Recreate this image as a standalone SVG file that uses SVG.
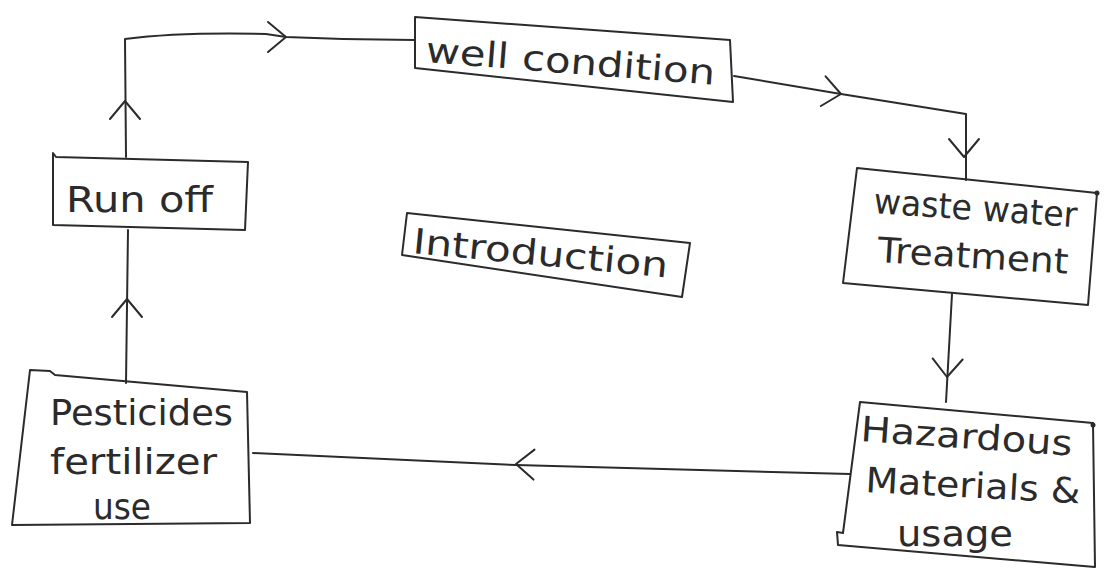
<svg xmlns="http://www.w3.org/2000/svg" width="1112" height="575" viewBox="0 0 1112 575">
<style>
.box{fill:none;stroke:#2b2b2b;stroke-width:2;stroke-linejoin:round}
.ln{fill:none;stroke:#2b2b2b;stroke-width:2;stroke-linecap:round;stroke-linejoin:round}
.t{font-family:"DejaVu Sans","Liberation Sans",sans-serif;fill:#2b2b2b;font-size:35px;font-weight:normal}
</style>
<defs>
<path id="chev" d="M-18,-15 L0,0 L-18,15" fill="none" stroke="#2b2b2b" stroke-width="2" stroke-linecap="round" stroke-linejoin="round"/>
</defs>
<rect x="0" y="0" width="1112" height="575" fill="#ffffff"/>
<g id="connectors">
<path class="ln" d="M126,157 L125,39 Q180,32 266,34 L286,37 Q350,40 415,40"/>
<use href="#chev" transform="translate(125,101) rotate(-90)"/>
<use href="#chev" transform="translate(286,37)"/>
<path class="ln" d="M734,76 L841,94 L966,114 L966,180"/>
<use href="#chev" transform="translate(841,94) rotate(9)"/>
<use href="#chev" transform="translate(964,157) rotate(90)"/>
<path class="ln" d="M952,294 L946,402"/>
<use href="#chev" transform="translate(947,377) rotate(92)"/>
<path class="ln" d="M850,474 L516,465 L253,453"/>
<use href="#chev" transform="translate(516,464) rotate(182)"/>
<path class="ln" d="M126,383 L128,230"/>
<use href="#chev" transform="translate(127,299) rotate(-90)"/>
</g>
<g id="node-runoff">
<path class="box" d="M53,153 L56,157 L248,162 L245,230 L53,225 Z"/>
<text class="t" x="66" y="212" font-size="37" textLength="147" lengthAdjust="spacingAndGlyphs">Run off</text>
</g>
<g id="node-well">
<path class="box" d="M415,17 L730,40 L733,102 L415,68 Z"/>
<text class="t" x="425" y="62" font-size="38" textLength="290" lengthAdjust="spacingAndGlyphs" transform="rotate(4.5,425,62)">well condition</text>
</g>
<g id="node-waste">
<path class="box" d="M857,168 L1097,193 L1088,305 L843,283 Z"/>
<circle cx="1097" cy="193" r="2.5" fill="#2b2b2b"/>
<text class="t" x="873" y="213" textLength="204" lengthAdjust="spacingAndGlyphs" transform="rotate(4,873,213)">waste water</text>
<text class="t" x="877" y="262" textLength="191" lengthAdjust="spacingAndGlyphs" transform="rotate(3.5,877,262)">Treatment</text>
</g>
<g id="node-hazardous">
<path class="box" d="M860,402 L1093,423 L1095,567 L838,545 L837,532 L843,533 Z"/>
<circle cx="1093" cy="425" r="2.5" fill="#2b2b2b"/>
<text class="t" x="860" y="441" textLength="212" lengthAdjust="spacingAndGlyphs" transform="rotate(4,860,441)">Hazardous</text>
<text class="t" x="865" y="492" textLength="215" lengthAdjust="spacingAndGlyphs" transform="rotate(3,865,492)">Materials &amp;</text>
<text class="t" x="897" y="546" textLength="116" lengthAdjust="spacingAndGlyphs">usage</text>
</g>
<g id="node-pesticides">
<path class="box" d="M30,370 L50,371 L55,375 L247,392 L250,523 L12,525 Z"/>
<text class="t" x="50" y="425" textLength="183" lengthAdjust="spacingAndGlyphs">Pesticides</text>
<text class="t" x="50" y="474" textLength="167" lengthAdjust="spacingAndGlyphs">fertilizer</text>
<text class="t" x="93" y="519" textLength="58" lengthAdjust="spacingAndGlyphs">use</text>
</g>
<g id="node-introduction">
<path class="box" d="M407,213 L690,243 L682,297 L402,255 Z"/>
<text class="t" x="412" y="253" font-size="36" textLength="256" lengthAdjust="spacingAndGlyphs" transform="rotate(5.5,412,253)">Introduction</text>
</g>
</svg>
